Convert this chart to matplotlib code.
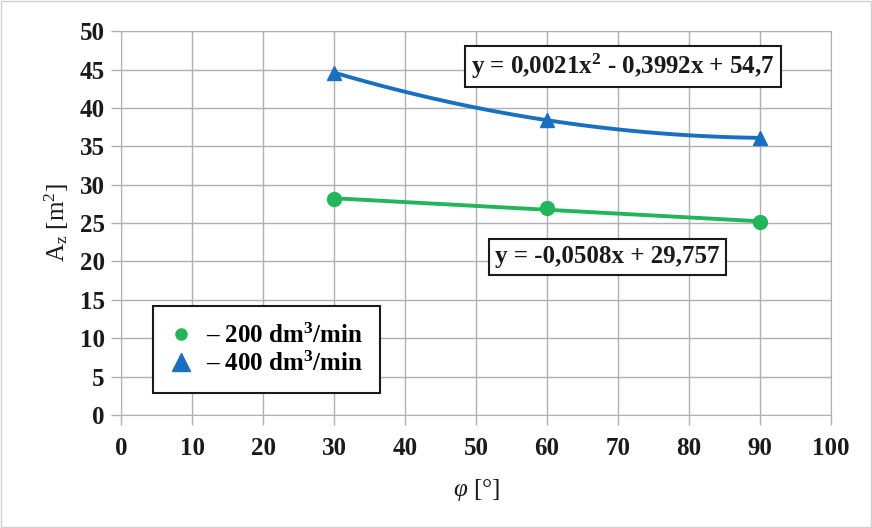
import numpy as np
import matplotlib
matplotlib.use("Agg")
import matplotlib.pyplot as plt

plt.rcParams['font.family'] = ['Liberation Serif', 'DejaVu Serif']
plt.rcParams['mathtext.fontset'] = 'custom'
plt.rcParams['mathtext.rm'] = 'Liberation Serif'
plt.rcParams['mathtext.it'] = 'Liberation Serif:italic'
plt.rcParams['mathtext.bf'] = 'Liberation Serif:bold'

angle = [30, 60, 90]
area_200 = [28.1, 27.0, 25.1]
area_400 = [44.6, 38.4, 36.1]
label_200 = r'– 200 dm$^\mathbf{3}$/min'
label_400 = r'– 400 dm$^\mathbf{3}$/min'
eq_200 = 'y = -0,0508x + 29,757'
eq_400 = r'y = 0,0021x$^\mathbf{2}$ - 0,3992x + 54,7'

green = '#22b55a'
blue = '#1a70c0'
gray = '#b0b0b0'
ink = '#1a1a1a'

fig = plt.figure(figsize=(8.72, 5.28), dpi=100)
ax = fig.add_axes([0.139, 0.214, 0.814, 0.727])

# trend lines
xs = np.linspace(angle[0], angle[-1], 100)
p1 = np.polyfit(angle, area_200, 1)
p2 = np.polyfit(angle, area_400, 2)
ax.plot(xs, np.polyval(p1, xs), color=green, lw=2.8, zorder=3)
ax.plot(xs, np.polyval(p2, xs), color=blue, lw=2.8, zorder=3)

ax.plot(angle, area_200, 'o', color=green, ms=10, zorder=4, label=label_200)
ax.plot(angle, area_400, '^', color=blue, ms=10, zorder=4, label=label_400)

ax.set_xlim(0, 100)
ax.set_ylim(0, 50)
ax.set_xticks(range(0, 101, 10))
ax.set_yticks(range(0, 51, 5))
ax.grid(True, color=gray, lw=1)
for s in ax.spines.values():
    s.set_color(gray)
ax.tick_params(colors=gray, length=7, width=1, labelcolor=ink, labelsize=18, pad=5)
ax.tick_params(axis='x', pad=9)
for t in ax.get_xticklabels() + ax.get_yticklabels():
    t.set_fontweight('bold')

ax.set_xlabel(r'$\it{\varphi}$ [°]', fontsize=18, color=ink, labelpad=12)
ax.set_ylabel(r'A$_\mathrm{z}$ [m$^2$]', fontsize=18, color=ink, labelpad=6)

box = dict(boxstyle='square,pad=0.25', fc='white', ec=ink, lw=1.5)
ax.text(70.7, 45.4, eq_400, fontsize=18, fontweight='bold', ha='center', va='center',
        bbox=box, zorder=5, color=ink)
ax.text(68.5, 20.6, eq_200, fontsize=18, fontweight='bold', ha='center', va='center',
        bbox=box, zorder=5, color=ink)

leg = ax.legend(loc='lower left', bbox_to_anchor=(0.045, 0.057), fancybox=False,
                framealpha=1, edgecolor=ink, handlelength=0.8, handletextpad=0.6,
                borderpad=0.7, labelspacing=0.15, borderaxespad=0,
                prop={'family': 'Liberation Serif', 'weight': 'bold', 'size': 18})
leg.get_frame().set_linewidth(1.5)
leg.set_zorder(6)
leg.legend_handles[0].set_markersize(8)
leg.legend_handles[1].set_markersize(13)

fig.patches.append(plt.Rectangle((0.001, 0.001), 0.998, 0.998, transform=fig.transFigure,
                                 fill=False, ec='#d0d0d0', lw=1))
fig.savefig('out.png', dpi=100)
